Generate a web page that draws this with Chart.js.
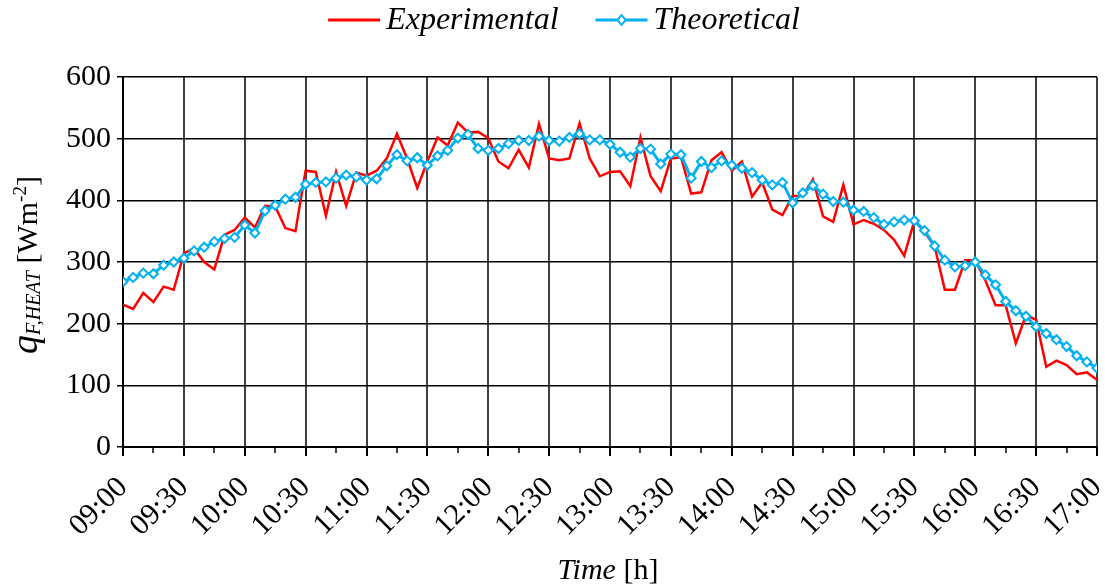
<!DOCTYPE html>
<html>
<head>
<meta charset="utf-8">
<script src="https://cdn.jsdelivr.net/npm/chart.js@4/dist/chart.umd.min.js"></script>
<style>
  html, body { margin: 0; padding: 0; background: #fff; }
  #wrap { width: 1105px; height: 587px; }
</style>
</head>
<body>
<div id="wrap"><canvas id="heatChart" width="1105" height="587"></canvas></div>
<script>
// thời gian tính bằng phút từ 0h, mỗi điểm cách 5 phút (09:00 -> 17:00)
const startMinute = 540;
const stepMinute = 5;

const experimental = [
    231, 224, 250, 235, 260, 255, 314, 322, 300, 288, 344, 352,
    372, 356, 391, 390, 355, 350, 448, 446, 375, 446, 391, 445,
    440, 448, 468, 508, 468, 420, 463, 502, 489, 526, 510, 511,
    501, 463, 452, 482, 453, 524, 468, 465, 468, 525, 468, 439,
    446, 447, 423, 502, 439, 415, 468, 470, 411, 413, 465, 478,
    448, 463, 406, 429, 385, 376, 407, 407, 434, 374, 365, 425,
    361, 368, 362, 352, 336, 310, 367, 349, 325, 255, 255, 303,
    303, 270, 230, 230, 168, 214, 206, 130, 140, 133, 118, 121,
    109
];

const theoretical = [
    268, 275, 282, 281, 295, 300, 306, 318, 324, 333, 338, 340,
    360, 347, 383, 392, 402, 405, 426, 429, 430, 436, 441, 438,
    433, 435, 456, 474, 464, 469, 457, 472, 481, 501, 507, 484,
    481, 484, 492, 497, 497, 504, 497, 496, 502, 508, 498, 498,
    491, 478, 470, 484, 483, 459, 475, 474, 436, 463, 453, 464,
    457, 452, 445, 433, 425, 429, 396, 412, 424, 410, 398, 397,
    384, 382, 372, 361, 365, 368, 367, 351, 326, 303, 292, 294,
    300, 279, 263, 236, 221, 212, 195, 184, 174, 163, 148, 138,
    128
];

const yTicks = [0, 100, 200, 300, 400, 500, 600];
const xMajorStep = 30;  // nhãn mỗi 30 phút
const xMinorStep = 15;  // vạch phụ mỗi 15 phút

function toPoints(values) {
    return values.map((v, i) => ({ x: startMinute + i * stepMinute, y: v }));
}

function fmtTime(m) {
    const h = Math.floor(m / 60);
    const mm = m % 60;
    return String(h).padStart(2, '0') + ':' + String(mm).padStart(2, '0');
}

const serif = "'Liberation Serif', 'Times New Roman', serif";
Chart.defaults.font.family = serif;
Chart.defaults.color = '#000';

// vẽ chú thích, tên trục (có chỉ số dưới / trên), vạch phụ trục x
const textPlugin = {
    id: 'textPlugin',
    afterDraw(chart) {
        const ctx = chart.ctx;
        const xs = chart.scales.x;
        const area = chart.chartArea;
        ctx.save();

        // vạch phụ
        ctx.strokeStyle = '#000';
        ctx.lineWidth = 1.5;
        for (let m = xs.min + xMinorStep; m < xs.max; m += xMajorStep) {
            const px = Math.round(xs.getPixelForValue(m));
            ctx.beginPath();
            ctx.moveTo(px, area.bottom);
            ctx.lineTo(px, area.bottom + 6);
            ctx.stroke();
        }

        ctx.fillStyle = '#000';

        // legend
        const legY = 20;
        ctx.font = 'italic 32px ' + serif;
        const w1 = ctx.measureText('Experimental').width;
        const w2 = ctx.measureText('Theoretical').width;
        const lineLen = 52, gap = 6, mid = 37;
        const total = lineLen + gap + w1 + mid + lineLen + gap + w2;
        let x = 564 - total / 2;
        ctx.strokeStyle = '#FF0000';
        ctx.lineWidth = 3;
        ctx.beginPath(); ctx.moveTo(x, legY); ctx.lineTo(x + lineLen, legY); ctx.stroke();
        x += lineLen + gap;
        ctx.textBaseline = 'middle';
        ctx.fillText('Experimental', x, legY + 1);
        x += w1 + mid;
        ctx.strokeStyle = '#00B0F0';
        ctx.beginPath(); ctx.moveTo(x, legY); ctx.lineTo(x + lineLen, legY); ctx.stroke();
        const cx = x + lineLen / 2;
        ctx.fillStyle = '#fff';
        ctx.lineWidth = 2;
        ctx.beginPath();
        ctx.moveTo(cx, legY - 5); ctx.lineTo(cx + 4, legY); ctx.lineTo(cx, legY + 5); ctx.lineTo(cx - 4, legY);
        ctx.closePath(); ctx.fill(); ctx.stroke();
        ctx.fillStyle = '#000';
        x += lineLen + gap;
        ctx.fillText('Theoretical', x, legY + 1);

        // x title
        ctx.textBaseline = 'alphabetic';
        ctx.font = 'italic 30px ' + serif;
        const tw = ctx.measureText('Time').width;
        ctx.font = '30px ' + serif;
        const hw = ctx.measureText(' [h]').width;
        const tx = 608 - (tw + hw) / 2;
        ctx.font = 'italic 30px ' + serif;
        ctx.fillText('Time', tx, 579);
        ctx.font = '30px ' + serif;
        ctx.fillText(' [h]', tx + tw, 579);

        // y title
        const parts = [
            { t: 'q', f: 'italic 38px ' + serif, dy: 0 },
            { t: 'F,HEAT', f: 'italic 20px ' + serif, dy: 3 },
            { t: ' [Wm', f: '30px ' + serif, dy: 0 },
            { t: '-2', f: '19px ' + serif, dy: -11 },
            { t: ']', f: '30px ' + serif, dy: 0 }
        ];
        let len = 0;
        parts.forEach(p => { ctx.font = p.f; p.w = ctx.measureText(p.t).width; len += p.w; });
        ctx.translate(37, 265);
        ctx.rotate(-Math.PI / 2);
        let px = -len / 2;
        parts.forEach(p => {
            ctx.font = p.f;
            ctx.fillText(p.t, px, p.dy);
            px += p.w;
        });
        ctx.restore();
    }
};

const ctx = document.getElementById('heatChart').getContext('2d');
const heatChart = new Chart(ctx, {
    type: 'line',
    data: {
        datasets: [{
            label: 'Experimental',
            data: toPoints(experimental),
            borderColor: '#FF0000',
            borderWidth: 2.5,
            pointRadius: 0,
            tension: 0,
            order: 2
        }, {
            label: 'Theoretical',
            data: toPoints(theoretical),
            borderColor: '#00B0F0',
            borderWidth: 3,
            pointStyle: 'rectRot',
            pointRadius: 4.5,
            pointBorderWidth: 2,
            pointBackgroundColor: '#fff',
            pointBorderColor: '#00B0F0',
            tension: 0,
            order: 1
        }]
    },
    options: {
        responsive: false,
        animation: false,
        layout: { padding: { top: 77, right: 8, left: 0, bottom: 0 } },
        plugins: {
            legend: { display: false },
            tooltip: { enabled: false }
        },
        scales: {
            x: {
                type: 'linear',
                min: 540,
                max: 1020,
                afterFit: s => { s.height = 140; s.paddingLeft = 0; s.paddingRight = 0; },
                afterBuildTicks: s => {
                    const t = [];
                    for (let m = s.min; m <= s.max; m += xMajorStep) t.push({ value: m });
                    s.ticks = t;
                },
                ticks: {
                    autoSkip: false,
                    minRotation: 45,
                    maxRotation: 45,
                    font: { size: 30 },
                    padding: 14,
                    callback: v => fmtTime(v)
                },
                grid: { color: '#404040', lineWidth: 2, tickLength: 9, tickColor: '#000' },
                border: { color: '#000', width: 2 }
            },
            y: {
                min: 0,
                max: 600,
                afterFit: s => { s.width = 123; },
                afterBuildTicks: s => { s.ticks = yTicks.map(v => ({ value: v })); },
                ticks: { font: { size: 30 }, padding: 6 },
                grid: { color: '#000', lineWidth: 1.5, tickLength: 6 },
                border: { color: '#000', width: 2 }
            }
        }
    },
    plugins: [textPlugin]
});
</script>
</body>
</html>
